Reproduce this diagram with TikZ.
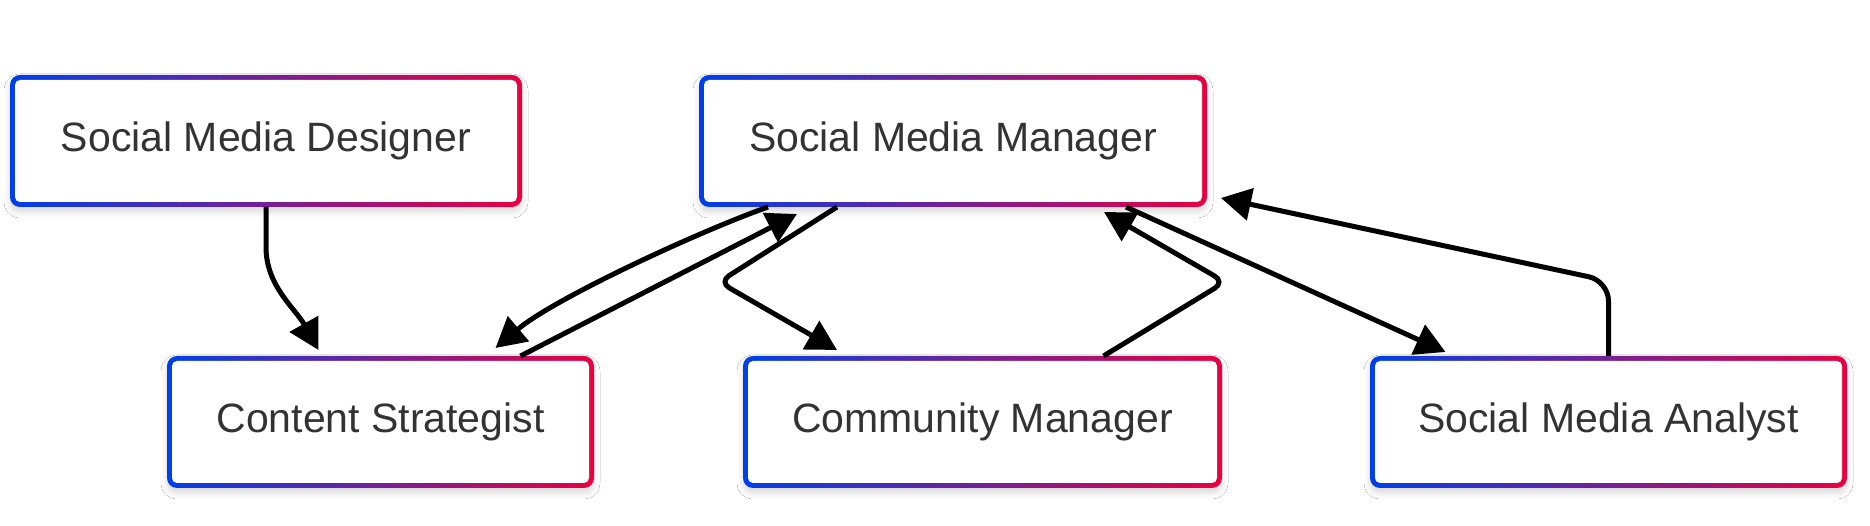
\documentclass[tikz,border=0pt]{standalone}
\usepackage{fontspec}
\setmainfont{Liberation Sans}
\usetikzlibrary{arrows.meta,shadows.blur}
\definecolor{gblue}{HTML}{0040EA}
\definecolor{gred}{HTML}{EA0040}
\definecolor{txt}{HTML}{333333}
\tikzset{
  rolebox/.style={rectangle, rounded corners=10pt, minimum height=132pt,
    inner sep=0pt, outer sep=0pt, text=txt,
    font=\fontsize{41}{49}\selectfont,
    blur shadow={shadow xshift=0pt, shadow yshift=-5pt, shadow blur radius=6pt, shadow opacity=15},
    path picture={
      \shade[left color=gblue, right color=gred]
        (path picture bounding box.south west) rectangle (path picture bounding box.north east);
      \fill[white, rounded corners=5pt]
        ([shift={(5pt,5pt)}]path picture bounding box.south west) rectangle
        ([shift={(-5pt,-5pt)}]path picture bounding box.north east);
    }},
  link/.style={line width=5pt, draw=black, -{Triangle[length=30pt,width=32pt]}}
}
\begin{document}
\begin{tikzpicture}[x=1pt,y=1pt]
\fill[white] (0,0) rectangle (1870,526);
\useasboundingbox (0,0) rectangle (1870,526);

\node[rolebox, minimum width=512pt] (d)  at (266,385)   {Social Media Designer};
\node[rolebox, minimum width=508pt] (m)  at (953,385)   {Social Media Manager};
\node[rolebox, minimum width=427pt] (cs) at (380.5,104) {Content Strategist};
\node[rolebox, minimum width=479pt] (cm) at (982.5,104) {Community Manager};
\node[rolebox, minimum width=477pt] (an) at (1608.5,104) {Social Media Analyst};

% Designer -> Content Strategist
\draw[link] (d.south) -- (266,279) .. controls (266,240) and (295,218) .. ([xshift=-62pt,yshift=6pt]cs.north);
% Manager -> Content Strategist
\draw[link] ([xshift=-185pt]m.south) .. controls (700,295) and (555,228) .. ([xshift=115pt,yshift=8pt]cs.north);
% Content Strategist -> Manager
\draw[link] ([xshift=140pt]cs.north) -- ([xshift=-156pt,yshift=-7pt]m.south);
% Manager -> Community Manager
\draw[link, rounded corners=12pt] ([xshift=-116pt]m.south) -- (719,244) -- ([xshift=-145.5pt,yshift=6pt]cm.north);
% Community Manager -> Manager
\draw[link, rounded corners=12pt] ([xshift=121pt]cm.north) -- (1225,244) -- ([xshift=151pt,yshift=-5pt]m.south);
% Manager -> Analyst
\draw[link] ([xshift=173pt]m.south) -- ([xshift=-163pt,yshift=4pt]an.north);
% Analyst -> Manager
\draw[link, rounded corners=20pt] (an.north) -- (1608.5,245) -- ([xshift=14pt,yshift=9pt]m.south east);
\end{tikzpicture}
\end{document}
